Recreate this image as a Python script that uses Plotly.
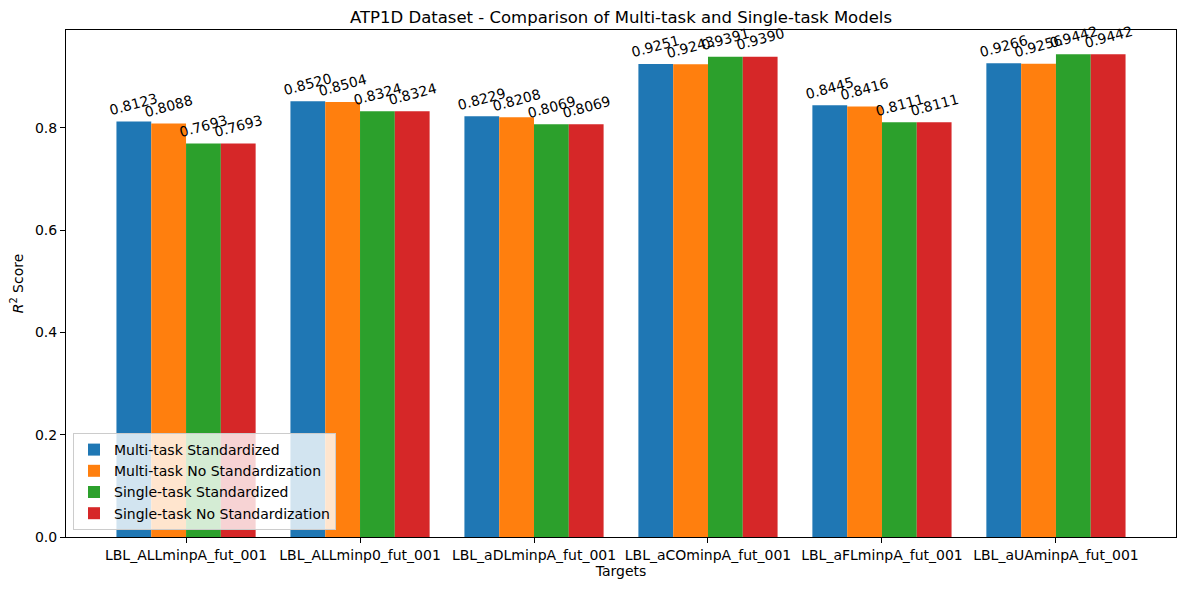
import plotly.graph_objects as go

targets = ["LBL_ALLminpA_fut_001", "LBL_ALLminp0_fut_001", "LBL_aDLminpA_fut_001",
           "LBL_aCOminpA_fut_001", "LBL_aFLminpA_fut_001", "LBL_aUAminpA_fut_001"]
multi_std = [0.8123, 0.8520, 0.8229, 0.9251, 0.8445, 0.9266]
multi_nostd = [0.8088, 0.8504, 0.8208, 0.9243, 0.8416, 0.9256]
single_std = [0.7693, 0.8324, 0.8069, 0.9391, 0.8111, 0.9442]
single_nostd = [0.7693, 0.8324, 0.8069, 0.9390, 0.8111, 0.9442]

series = [
    ("Multi-task Standardized", multi_std, "#1f77b4"),
    ("Multi-task No Standardization", multi_nostd, "#ff7f0e"),
    ("Single-task Standardized", single_std, "#2ca02c"),
    ("Single-task No Standardization", single_nostd, "#d62728"),
]
offsets = [-0.3, -0.1, 0.1, 0.3]
width = 0.2

# page body has an 8px margin, so the figure is sized to fit the window
W, H = 1181, 582

fig = go.Figure()
annotations = []
xs = list(range(len(targets)))
for (name, vals, color), off in zip(series, offsets):
    fig.add_trace(go.Bar(
        x=[x + off for x in xs], y=vals, width=width, name=name,
        marker=dict(color=color, line=dict(width=0)),
    ))
    for x, v in zip(xs, vals):
        annotations.append(dict(
            x=x + off, y=v, xref="x", yref="y", text=f"{v:.4f}",
            showarrow=False, textangle=-15, xanchor="center", yanchor="bottom",
            font=dict(size=14, color="black"), yshift=1,
        ))

ymax = max(max(s[1]) for s in series) * 1.05

fig.update_layout(
    width=W, height=H,
    margin=dict(l=58, r=13, t=22, b=53, autoexpand=False),
    paper_bgcolor="white", plot_bgcolor="white",
    font=dict(family="DejaVu Sans", size=14, color="black"),
    title=dict(text="ATP1D Dataset - Comparison of Multi-task and Single-task Models",
               x=0.5, xref="paper", xanchor="center", y=1, yref="paper", yanchor="bottom",
               pad=dict(b=7), font=dict(size=16.5)),
    barmode="overlay",
    showlegend=True,
    legend=dict(x=0.0063, y=0.0138, xanchor="left", yanchor="bottom",
                bgcolor="rgba(255,255,255,0.8)", bordercolor="#cccccc", borderwidth=1,
                font=dict(size=14), tracegroupgap=0),
    annotations=annotations,
    xaxis=dict(range=[-0.69, 5.69], tickvals=xs, ticktext=targets,
               showline=True, linecolor="black", linewidth=1, mirror=True,
               ticks="outside", ticklen=5, tickcolor="black", showgrid=False,
               zeroline=False, automargin=False,
               title=dict(text="Targets", font=dict(size=14), standoff=4)),
    yaxis=dict(range=[0, ymax], tickvals=[0, 0.2, 0.4, 0.6, 0.8],
               ticktext=["0.0", "0.2", "0.4", "0.6", "0.8"],
               showline=True, linecolor="black", linewidth=1, mirror=True,
               ticks="outside", ticklen=5, tickcolor="black", showgrid=False,
               zeroline=False, automargin=False,
               title=dict(text="<i>R</i><sup>2</sup> Score", font=dict(size=14), standoff=8)),
)

fig.write_html("out.html")
